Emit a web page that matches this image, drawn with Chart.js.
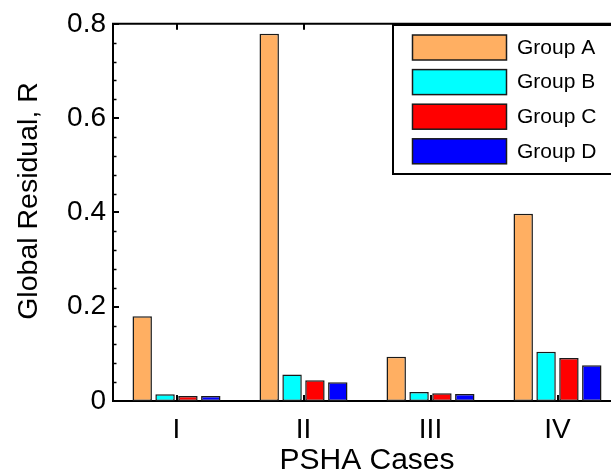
<!DOCTYPE html>
<html>
<head>
  <title>Global Residual by PSHA Case</title>
  <script src="https://cdn.jsdelivr.net/npm/chart.js"></script>
  <style>
    html, body { margin: 0; padding: 0; background: #fff; overflow: hidden; }
    .clip { width: 611px; height: 476px; overflow: hidden; }
    .wrap { width: 640px; height: 476px; position: relative; }
  </style>
</head>
<body>
  <div class="clip">
    <div class="wrap"><canvas id="chart"></canvas></div>
  </div>

  <script>
    const cases = ['I', 'II', 'III', 'IV'];
    const groupA = [0.180, 0.779, 0.094, 0.397];
    const groupB = [0.0145, 0.056, 0.019, 0.1045];
    const groupC = [0.0105, 0.044, 0.0165, 0.091];
    const groupD = [0.0105, 0.040, 0.015, 0.076];
    const yTicks = [0, 0.2, 0.4, 0.6, 0.8];
    const yMinorTicks = [0.04, 0.08, 0.12, 0.16, 0.24, 0.28, 0.32, 0.36,
                         0.44, 0.48, 0.52, 0.56, 0.64, 0.68, 0.72, 0.76];
    const yTitle = 'Global Residual, R';

    const FONT = '"Liberation Sans", Arial, Helvetica, sans-serif';
    const EDGE = '#1a1a1a';

    // axis box, inward ticks, y title and the legend are drawn by hand (matlab look)
    const axesPlugin = {
      id: 'axesPlugin',
      beforeDatasetsDraw(chart) {
        const { ctx, chartArea: a, scales: { x, y } } = chart;
        ctx.save();
        ctx.strokeStyle = '#000';
        ctx.lineWidth = 2;
        // top border
        ctx.beginPath();
        ctx.moveTo(a.left - 1, a.top);
        ctx.lineTo(a.right + 1, a.top);
        ctx.stroke();
        // category ticks, top and bottom
        cases.forEach((c, i) => {
          const px = Math.round(x.getPixelForValue(i));
          ctx.beginPath();
          ctx.moveTo(px, a.top);
          ctx.lineTo(px, a.top + 6);
          ctx.moveTo(px, a.bottom);
          ctx.lineTo(px, a.bottom - 6);
          ctx.stroke();
        });
        // y ticks
        yTicks.forEach(v => {
          const py = Math.round(y.getPixelForValue(v));
          ctx.beginPath();
          ctx.moveTo(a.left, py);
          ctx.lineTo(a.left + 6, py);
          ctx.stroke();
        });
        ctx.lineWidth = 1.5;
        yMinorTicks.forEach(v => {
          const py = Math.round(y.getPixelForValue(v)) + 0.5;
          ctx.beginPath();
          ctx.moveTo(a.left, py);
          ctx.lineTo(a.left + 3.5, py);
          ctx.stroke();
        });
        // y title
        ctx.translate(29, 201);
        ctx.rotate(-Math.PI / 2);
        ctx.font = '28.5px ' + FONT;
        ctx.fillStyle = '#000';
        ctx.textAlign = 'center';
        ctx.textBaseline = 'middle';
        ctx.fillText(yTitle, 0, 0);
        ctx.restore();
      },
      afterDraw(chart) {
        const ctx = chart.ctx;
        ctx.save();
        // legend box
        ctx.fillStyle = '#fff';
        ctx.strokeStyle = '#000';
        ctx.lineWidth = 2;
        ctx.fillRect(393, 25, 260, 149);
        ctx.strokeRect(393, 25, 260, 149);
        ctx.font = '21px ' + FONT;
        ctx.textBaseline = 'middle';
        ctx.textAlign = 'left';
        chart.data.datasets.forEach((ds, i) => {
          const top = 35 + i * 34.6;
          ctx.fillStyle = ds.backgroundColor;
          ctx.fillRect(412.5, top, 94, 25);
          ctx.lineWidth = 1.5;
          ctx.strokeStyle = EDGE;
          ctx.strokeRect(412.5, top, 94, 25);
          ctx.fillStyle = '#000';
          ctx.fillText(ds.label, 517, top + 13);
        });
        ctx.restore();
      }
    };

    const ctx = document.getElementById('chart').getContext('2d');
    new Chart(ctx, {
      type: 'bar',
      data: {
        labels: cases,
        datasets: [
          { label: 'Group A', data: groupA, backgroundColor: '#FFAF62' },
          { label: 'Group B', data: groupB, backgroundColor: '#00FFFF' },
          { label: 'Group C', data: groupC, backgroundColor: '#FF0000' },
          { label: 'Group D', data: groupD, backgroundColor: '#0000FF' }
        ]
      },
      options: {
        responsive: true,
        maintainAspectRatio: false,
        animation: false,
        events: [],
        datasets: {
          bar: {
            categoryPercentage: 0.72,
            barPercentage: 0.85,
            borderColor: EDGE,
            borderWidth: 1.5,
            borderSkipped: false
          }
        },
        layout: { padding: { top: 16, right: 19, left: 0, bottom: 0 } },
        plugins: {
          legend: { display: false },
          tooltip: { enabled: false }
        },
        scales: {
          x: {
            offset: true,
            grid: { display: false, drawTicks: false },
            border: { display: true, color: '#000', width: 2 },
            ticks: { color: '#000', padding: 12, font: { family: FONT, size: 28 } },
            title: {
              display: true, text: 'PSHA Cases', color: '#000',
              padding: 0, font: { family: FONT, size: 30, lineHeight: 1 }
            },
            afterFit(scale) { scale.height = 75; }
          },
          y: {
            min: 0,
            max: 0.8,
            grid: { display: false, drawTicks: false },
            border: { display: true, color: '#000', width: 2 },
            afterBuildTicks(scale) { scale.ticks = yTicks.map(v => ({ value: v })); },
            ticks: {
              color: '#000', padding: 7, font: { family: FONT, size: 28 },
              callback: v => String(Math.round(v * 10) / 10)
            },
            afterFit(scale) { scale.width = 113; }
          }
        }
      },
      plugins: [axesPlugin]
    });
  </script>
</body>
</html>
